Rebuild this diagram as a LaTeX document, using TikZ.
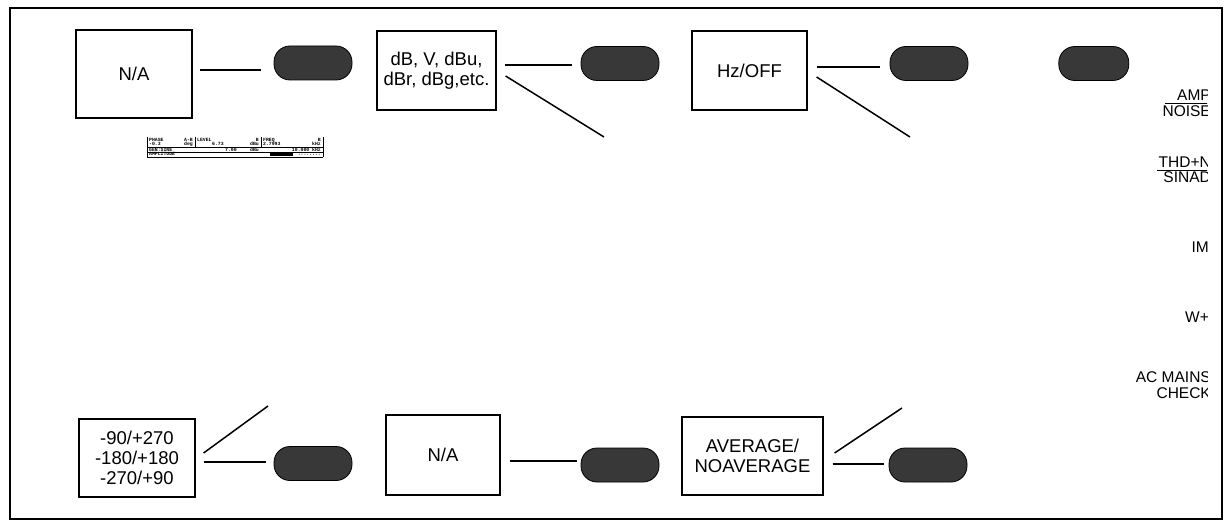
\documentclass[tikz,border=0pt]{standalone}
\usepackage{fontspec}
\setmainfont{Liberation Sans}
\setmonofont{Liberation Mono}
\usetikzlibrary{positioning}
\newcommand{\boxfont}{\fontsize{18.5}{20}\selectfont}
\newcommand{\sidefont}{\fontsize{15.5}{15}\selectfont}
\newcommand{\lcdfont}{\fontsize{4.8}{5}\selectfont\ttfamily\bfseries}
\tikzstyle{setbox} = [rectangle, draw=black, line width=1.2pt, align=center,
    font=\boxfont, inner sep=0pt]
\tikzstyle{knob} = [rectangle, rounded corners=16pt, minimum width=78pt,
    minimum height=34pt, draw=black, line width=0.8pt, fill=black!78]
\tikzstyle{link} = [line width=1.5pt]
\tikzstyle{side} = [font=\sidefont, anchor=base east, inner sep=0pt]
\tikzstyle{lcd} = [font=\lcdfont, inner sep=0pt, anchor=base west]
\tikzstyle{lcdr} = [font=\lcdfont, inner sep=0pt, anchor=base east]

\begin{document}
\begin{tikzpicture}[x=1pt, y=-1pt]
\useasboundingbox (0,0) rectangle (1225,521);
\draw[line width=1.2pt] (10,8) rectangle (1222,519);

\node (natop) [setbox, minimum width=116pt, minimum height=88pt] at (134,74) {N/A};
\node (knoba) [knob, right=81pt of natop, yshift=11pt] {};
\node (unitsel) [setbox, minimum width=119pt, minimum height=79pt, right=24pt of knoba, yshift=-7.5pt] {dB, V, dBu,\\dBr, dBg,etc.};
\node (knobb) [knob, right=84pt of unitsel, yshift=7pt] {};
\node (freqsel) [setbox, minimum width=115pt, minimum height=79pt, right=32pt of knobb, yshift=-7pt] {Hz/OFF};
\node (knobc) [knob, right=82pt of freqsel, yshift=7pt] {};
\node (knobd) [knob, minimum width=70pt, right=90pt of knobc] {};

\node (phasesel) [setbox, minimum width=116pt, minimum height=78pt] at (137,458) {-90/+270\\-180/+180\\-270/+90};
\node (knobe) [knob, right=78pt of phasesel, yshift=-5.5pt] {};
\node (nabot) [setbox, minimum width=114pt, minimum height=80pt, right=33pt of knobe, yshift=8.5pt] {N/A};
\node (knobf) [knob, right=80pt of nabot, yshift=-10pt] {};
\node (avgsel) [setbox, minimum width=141pt, minimum height=78pt, right=22pt of knobf, yshift=9pt] {AVERAGE/\\NOAVERAGE};
\node (knobg) [knob, right=65pt of avgsel, yshift=-9pt] {};

\coordinate (unittip) at (604,137);
\coordinate (freqtip) at (910,137);
\coordinate (phasetip) at (268,406);
\coordinate (avgtip) at (902,408);

\draw[link] ([xshift=7pt,yshift=4pt]natop.east) -- ([xshift=-13pt,yshift=-7pt]knoba.west);
\draw[link] ([xshift=8pt,yshift=5.5pt]unitsel.east) -- ([xshift=-9pt,yshift=-1.5pt]knobb.west);
\draw[link] ([xshift=9pt,yshift=-5.5pt]unitsel.east) -- (unittip);
\draw[link] ([xshift=9pt,yshift=3.5pt]freqsel.east) -- ([xshift=-10pt,yshift=-3.5pt]knobc.west);
\draw[link] ([xshift=9pt,yshift=-6.5pt]freqsel.east) -- (freqtip);
\draw[link] ([xshift=8pt,yshift=5pt]phasesel.east) -- (phasetip);
\draw[link] ([xshift=8pt,yshift=-4pt]phasesel.east) -- ([xshift=-8pt,yshift=1.5pt]knobe.west);
\draw[link] ([xshift=9pt,yshift=-6pt]nabot.east) -- ([xshift=-4pt,yshift=4pt]knobf.west);
\draw[link] ([xshift=11pt,yshift=3pt]avgsel.east) -- (avgtip);
\draw[link] ([xshift=9pt,yshift=-8pt]avgsel.east) -- ([xshift=-5pt,yshift=1pt]knobg.west);

\draw[line width=0.7pt] (147,137) -- (147,157) (323,137) -- (323,157) (195,137) -- (195,147) (261,137) -- (261,147);
\draw[line width=0.9pt] (147,147) -- (323,147);
\draw[line width=0.6pt] (147,152) -- (323,152) (147,157) -- (323,157);
\node (lcdpha) [lcd] at (149,141.5) {PHASE};
\node (lcdphb) [lcdr] at (193,141.5) {A-B};
\node (lcdphv) [lcd] at (149,146) {-0.3};
\node (lcdphu) [lcdr] at (193,146) {deg};
\node (lcdlva) [lcd] at (197,141.5) {LEVEL};
\node (lcdlvb) [lcdr] at (259,141.5) {B};
\node (lcdlvv) [lcd] at (212,146) {6.73};
\node (lcdlvu) [lcdr] at (259,146) {dBu};
\node (lcdfra) [lcd] at (263,141.5) {FREQ};
\node (lcdfrb) [lcdr] at (321,141.5) {B};
\node (lcdfrv) [lcd] at (263,146) {2.7993};
\node (lcdfru) [lcdr] at (321,146) {kHz};
\node (lcdgen) [lcd] at (149,151.3) {GEN:SINE};
\node (lcdgnv) [lcd] at (225,151.3) {7.00};
\node (lcdgnu) [lcdr] at (259,151.3) {dBu};
\node (lcdgnf) [lcdr] at (321,151.3) {10.000 kHz};
\node (lcdamp) [lcd] at (149,156) {AMPLITUDE};
\fill (270,153.5) rectangle (293,155.8);
\node (lcdbar) [lcdr] at (321,156) {::::::::};

\begin{scope}
\clip (0,0) rectangle (1207,521);
\node (ampl) [side] at (1211,101) {AMP};
\node (noisel) [side] at (1211,117) {NOISE};
\node (thdl) [side] at (1211,168) {THD+N};
\node (sinadl) [side] at (1211,183) {SINAD};
\node (iml) [side] at (1209,253) {IM};
\node (wl) [side] at (1209,322) {W+};
\node (acl) [side] at (1211,382.5) {AC MAINS};
\node (checkl) [side] at (1211,398) {CHECK};
\draw[line width=0.9pt] (1165,103.5) -- (1212,103.5);
\draw[line width=0.9pt] (1157,170.5) -- (1212,170.5);
\end{scope}
\end{tikzpicture}
\end{document}
